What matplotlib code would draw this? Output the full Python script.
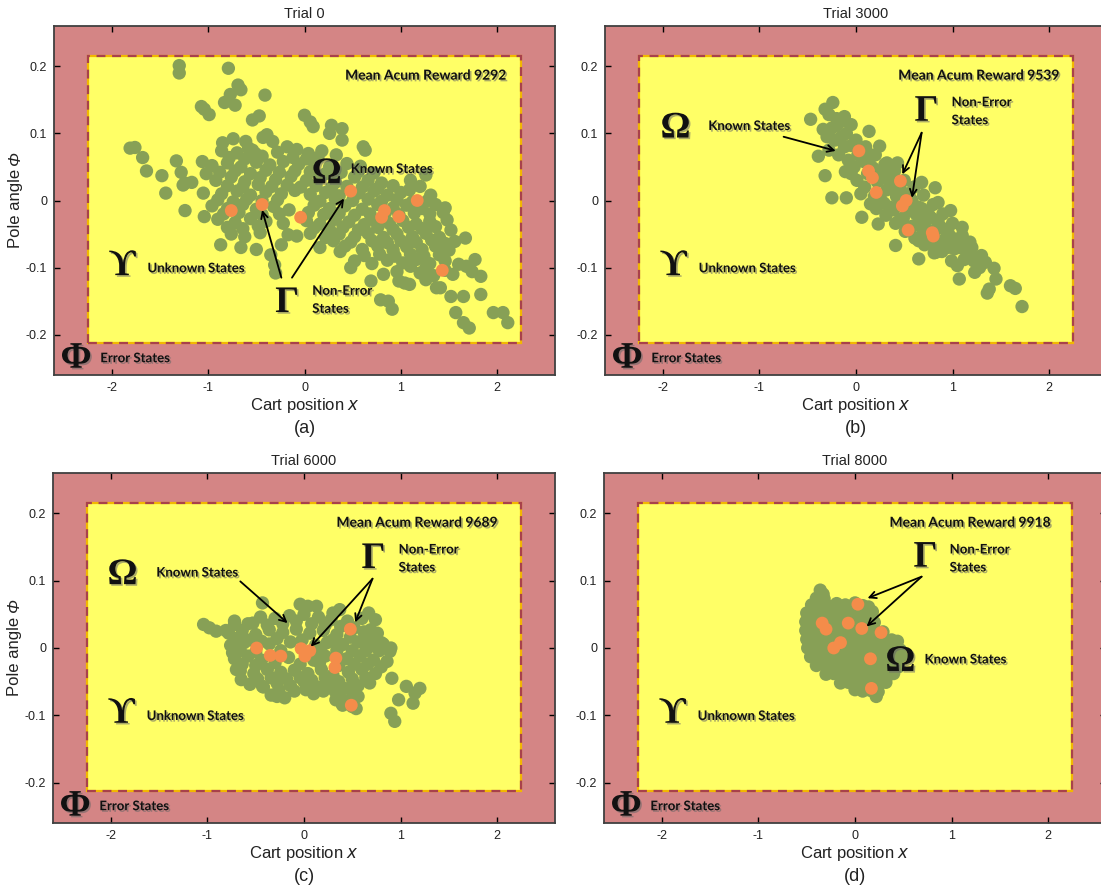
import matplotlib
matplotlib.use("Agg")
import numpy as np
import matplotlib.pyplot as plt
import matplotlib.patheffects as pe
from matplotlib.patches import Rectangle

plt.rcParams['font.family'] = ['Liberation Sans', 'DejaVu Sans']
plt.rcParams['axes.unicode_minus'] = False

# visited states (cart position x, pole angle phi) for each trial
green_a = [
    (-1.30, 0.201), (-1.30, 0.190), (-0.79, 0.197), (-0.69, 0.172), (-0.66, 0.165), (-0.77, 0.158),
    (-0.41, 0.157), (-0.83, 0.146), (-0.72, 0.142), (-1.07, 0.140), (-1.04, 0.136), (-0.99, 0.128),
    (-0.54, 0.120), (-0.47, 0.126), (0.00, 0.127), (0.06, 0.117), (0.09, 0.110), (0.28, 0.112),
    (0.39, 0.107), (0.26, 0.100), (0.39, 0.090), (-0.39, 0.098), (-0.33, 0.088), (-0.43, 0.094),
    (-0.85, 0.086), (-0.74, 0.092), (-0.61, 0.088), (-0.54, 0.075), (-0.51, 0.070), (0.61, 0.080),
    (0.63, 0.075), (-1.81, 0.078), (-1.76, 0.079), (-1.68, 0.064), (-1.64, 0.044), (-1.48, 0.037),
    (-1.44, 0.011), (-1.33, 0.059), (-1.28, 0.042), (-1.24, 0.026), (-1.24, -0.015), (-1.06, 0.058),
    (-1.02, 0.040), (-1.05, 0.011), (-1.04, -0.024), (-0.87, -0.066), (-0.50, -0.073), (-0.35, -0.081),
    (-0.31, -0.096), (-0.30, -0.108), (-0.17, -0.051), (0.48, -0.100), (0.37, -0.076), (0.69, -0.120),
    (0.79, -0.148), (0.87, -0.150), (0.91, -0.162), (0.98, -0.120), (1.04, -0.123), (1.09, -0.125),
    (1.26, -0.118), (1.37, -0.130), (1.41, -0.130), (1.52, -0.143), (1.65, -0.143), (1.57, -0.167),
    (1.65, -0.182), (1.71, -0.190), (1.83, -0.140), (1.96, -0.167), (2.06, -0.167), (2.11, -0.182),
    (1.67, -0.056), (1.83, -0.113), (1.77, -0.088), (1.68, -0.098), (1.48, -0.029), (1.52, -0.044),
    (1.56, -0.061), (1.43, -0.076), (1.26, 0.038), (1.31, 0.008), (1.46, -0.011), (1.20, 0.021),
    (1.09, 0.016), (-1.26, 0.023), (-1.17, 0.027),
    (-0.86, 0.074), (-0.70, 0.071), (-0.58, 0.078), (-0.28, 0.072), (-0.18, 0.080), (-0.08, 0.076),
    (0.04, 0.070), (0.18, 0.074), (0.33, 0.068),
    (-0.96, 0.052), (-0.80, 0.056), (-0.66, 0.050), (-0.50, 0.057), (-0.36, 0.053), (-0.22, 0.058),
    (-0.06, 0.054), (0.10, 0.057), (0.26, 0.050), (0.44, 0.055), (0.58, 0.051),
    (-0.92, 0.030), (-0.76, 0.035), (-0.62, 0.028), (-0.46, 0.034), (-0.30, 0.031), (-0.14, 0.036),
    (0.02, 0.030), (0.16, 0.034), (0.32, 0.027), (0.52, 0.035), (0.66, 0.030), (0.80, 0.026),
    (-0.86, 0.010), (-0.70, 0.014), (-0.56, 0.008), (-0.40, 0.013), (-0.24, 0.010), (-0.10, 0.015),
    (0.06, 0.009), (0.22, 0.012), (0.36, 0.007), (0.56, 0.011), (0.72, 0.014), (0.86, 0.008), (1.00, 0.012),
    (-0.96, -0.008), (-0.80, -0.012), (-0.64, -0.006), (-0.50, -0.013), (-0.32, -0.009), (-0.16, -0.014),
    (0.10, -0.007), (0.26, -0.012), (0.42, -0.008), (0.60, -0.013), (0.76, -0.006), (0.92, -0.011),
    (1.06, -0.007), (1.22, -0.012), (1.36, -0.006),
    (-0.90, -0.028), (-0.72, -0.033), (-0.56, -0.027), (-0.40, -0.031), (-0.22, -0.034), (0.02, -0.030),
    (0.16, -0.035), (0.32, -0.028), (0.46, -0.032), (0.62, -0.036), (0.72, -0.029), (0.88, -0.034),
    (1.02, -0.030), (1.16, -0.035), (1.30, -0.031),
    (-0.76, -0.050), (-0.62, -0.054), (-0.46, -0.048), (-0.08, -0.053), (0.06, -0.049), (0.22, -0.055),
    (0.36, -0.050), (0.52, -0.054), (0.66, -0.049), (0.82, -0.055), (0.96, -0.050), (1.12, -0.054),
    (1.26, -0.049), (1.40, -0.055),
    (-0.66, -0.070), (-0.24, -0.066), (0.16, -0.070), (0.42, -0.068), (0.60, -0.073), (0.76, -0.068),
    (0.92, -0.074), (1.06, -0.069), (1.22, -0.073), (1.36, -0.068), (1.50, -0.074),
    (0.52, -0.090), (0.70, -0.094), (0.86, -0.089), (1.02, -0.093), (1.16, -0.088), (1.30, -0.094),
    (1.46, -0.090), (1.60, -0.095),
    (0.82, -0.110), (0.96, -0.106), (1.20, -0.108), (1.34, -0.112), (1.54, -0.110), (1.74, -0.106),
    (-0.78, 0.064), (-0.62, 0.062), (-0.44, 0.066), (-0.12, 0.064), (0.02, 0.062), (0.14, 0.064),
    (-0.88, 0.042), (-0.72, 0.044), (-0.56, 0.040), (-0.40, 0.045), (-0.26, 0.042), (-0.10, 0.044),
    (0.06, 0.043), (0.22, 0.040), (0.38, 0.042), (0.56, 0.043), (0.72, 0.041),
    (-0.80, 0.022), (-0.64, 0.020), (-0.48, 0.024), (-0.34, 0.021), (-0.18, 0.023), (-0.04, 0.020),
    (0.12, 0.022), (0.28, 0.019), (0.44, 0.021), (0.60, 0.020), (0.76, 0.018), (0.92, 0.022), (1.10, 0.030),
    (-0.90, 0.001), (-0.74, -0.002), (-0.60, 0.002), (-0.44, 0.000), (-0.28, 0.001), (0.16, -0.001),
    (0.32, 0.002), (0.50, 0.000), (0.66, 0.002), (0.80, -0.001), (0.96, 0.001), (1.12, -0.002), (1.28, 0.000),
    (-0.84, -0.020), (-0.68, -0.018), (-0.44, -0.021), (-0.26, -0.020), (0.04, -0.018), (0.20, -0.021),
    (0.36, -0.019), (0.52, -0.022), (0.68, -0.020), (0.84, -0.018), (0.98, -0.021), (1.14, -0.019),
    (1.30, -0.020), (1.44, -0.018),
    (-0.80, -0.040), (-0.64, -0.042), (-0.48, -0.038), (0.10, -0.041), (0.26, -0.043), (0.40, -0.040),
    (0.56, -0.044), (0.76, -0.040), (0.92, -0.043), (1.08, -0.040), (1.22, -0.042), (1.36, -0.039),
    (0.30, -0.060), (0.48, -0.062), (0.70, -0.060), (0.86, -0.063), (1.00, -0.060), (1.16, -0.062),
    (1.32, -0.059), (1.46, -0.064), (0.62, -0.082), (0.78, -0.080), (0.94, -0.083), (1.10, -0.080),
    (1.24, -0.083), (1.40, -0.081), (1.10, -0.098), (1.26, -0.100), (1.46, -0.104),
]
orange_a = [(-0.76, -0.015), (-0.44, -0.006), (-0.04, -0.025), (0.48, 0.014), (0.83, -0.015),
            (0.80, -0.025), (0.98, -0.024), (1.17, 0.000), (1.43, -0.104)]

green_b = [
    (-0.24, 0.146), (-0.32, 0.136), (-0.47, 0.121), (-0.12, 0.125), (-0.05, 0.113), (0.135, 0.103),
    (-0.34, 0.106), (-0.39, 0.066), (-0.32, 0.037), (-0.25, 0.004), (-0.10, 0.004), (0.06, -0.025),
    (0.23, -0.035), (0.41, -0.067), (0.82, 0.019), (0.85, -0.003), (0.98, -0.015), (1.10, -0.040),
    (1.18, -0.062), (1.34, -0.092), (1.43, -0.101), (1.45, -0.117), (1.38, -0.132), (1.36, -0.138),
    (1.60, -0.127), (1.65, -0.131), (1.72, -0.158), (1.21, -0.085), (1.07, -0.117), (1.23, -0.107),
    (1.05, -0.097), (1.12, -0.060), (0.65, -0.087), (0.83, -0.077), (0.32, 0.056), (0.245, 0.081),
    (0.43, 0.056), (0.68, 0.027), (-0.28, 0.128), (-0.20, 0.122), (-0.15, 0.118), (-0.25, 0.108),
    (-0.30, 0.095), (-0.28, 0.075), (-0.20, 0.112), (-0.22, 0.090), (-0.18, 0.068),
    (-0.10, 0.100), (-0.12, 0.080), (-0.08, 0.060), (-0.11, 0.043),
    (0.00, 0.090), (0.02, 0.068), (-0.02, 0.050), (0.01, 0.030),
    (0.10, 0.080), (0.08, 0.058), (0.12, 0.040), (0.09, 0.020),
    (0.20, 0.068), (0.18, 0.048), (0.22, 0.028), (0.19, 0.006), (0.21, -0.012),
    (0.30, 0.054), (0.28, 0.034), (0.32, 0.016), (0.29, -0.004), (0.31, -0.022),
    (0.40, 0.044), (0.38, 0.024), (0.42, 0.006), (0.39, -0.014), (0.41, -0.034),
    (0.50, 0.030), (0.48, 0.012), (0.52, -0.008), (0.49, -0.026), (0.51, -0.046),
    (0.60, 0.020), (0.58, 0.000), (0.62, -0.020), (0.59, -0.038), (0.61, -0.056),
    (0.70, 0.008), (0.68, -0.012), (0.72, -0.030), (0.69, -0.050), (0.71, -0.066),
    (0.80, -0.006), (0.78, -0.026), (0.82, -0.044), (0.79, -0.062), (0.81, -0.078),
    (0.90, -0.020), (0.88, -0.040), (0.92, -0.058), (0.89, -0.076),
    (1.00, -0.034), (0.98, -0.054), (1.02, -0.072), (0.99, -0.090),
    (1.10, -0.052), (1.08, -0.070), (1.12, -0.088),
    (1.20, -0.070), (1.22, -0.090), (1.30, -0.082), (1.28, -0.100),
    (0.05, 0.075), (0.15, 0.052), (0.25, 0.040), (0.35, 0.030), (0.45, 0.000), (0.55, -0.015),
    (0.65, -0.035), (0.75, -0.045), (0.85, -0.060), (0.95, -0.070), (1.05, -0.060), (-0.05, 0.082),
    (0.25, 0.005), (0.35, -0.010), (0.45, -0.030), (0.55, 0.010), (0.65, -0.010), (0.75, -0.020),
    (-0.05, 0.040), (0.05, 0.010), (0.15, -0.005), (0.35, 0.045), (0.45, 0.020), (0.55, -0.040),
    (0.65, -0.060), (0.85, -0.030), (0.95, -0.045), (1.15, -0.075), (-0.15, 0.095), (0.15, 0.068),
]
orange_b = [(0.03, 0.074), (0.13, 0.044), (0.17, 0.034), (0.21, 0.012), (0.46, 0.029),
            (0.52, 0.000), (0.48, -0.008), (0.54, -0.044), (0.79, -0.048), (0.80, -0.053)]

green_c = [
    (-1.04, 0.035), (-0.98, 0.030), (-0.91, 0.025), (-0.81, 0.026), (-0.72, 0.035), (-0.53, 0.037),
    (-0.43, 0.067), (-0.04, 0.065), (0.04, 0.062), (0.13, 0.062), (0.30, 0.052), (0.37, 0.057),
    (0.67, 0.052), (0.74, 0.042), (0.69, 0.027), (0.76, 0.022), (0.80, 0.008), (0.90, 0.000),
    (0.89, -0.005), (0.91, -0.045), (1.06, -0.057), (1.15, -0.067), (1.20, -0.060), (1.13, -0.082),
    (0.98, -0.077), (0.90, -0.097), (0.94, -0.109), (0.50, -0.087), (0.39, -0.082), (0.33, -0.077),
    (0.02, -0.062), (-0.28, -0.072), (-0.43, -0.057), (-0.65, -0.047), (-0.70, -0.032), (-0.74, -0.007),
    (-0.72, 0.040), (-0.45, 0.046), (-0.30, 0.044), (-0.15, 0.048), (0.00, 0.050), (0.15, 0.046),
    (0.28, 0.042), (0.45, 0.040), (0.60, 0.044),
    (-0.78, 0.022), (-0.64, 0.026), (-0.50, 0.020), (-0.36, 0.027), (-0.22, 0.023), (-0.08, 0.028),
    (0.06, 0.022), (0.20, 0.026), (0.34, 0.020), (0.62, 0.024), (0.74, 0.018),
    (-0.76, 0.004), (-0.62, 0.008), (-0.36, 0.006), (-0.14, 0.009), (0.12, 0.004), (0.24, 0.008),
    (0.40, 0.005), (0.56, 0.009), (0.70, 0.003), (0.82, 0.006),
    (-0.72, -0.016), (-0.58, -0.012), (-0.44, -0.018), (-0.16, -0.014), (0.10, -0.018), (0.22, -0.012),
    (0.44, -0.016), (0.58, -0.012), (0.72, -0.018), (0.86, -0.020),
    (-0.66, -0.034), (-0.52, -0.038), (-0.38, -0.032), (-0.24, -0.036), (-0.10, -0.033), (0.04, -0.038),
    (0.18, -0.032), (0.30, -0.040), (0.46, -0.036), (0.60, -0.032), (0.74, -0.038),
    (-0.56, -0.054), (-0.42, -0.058), (-0.28, -0.052), (-0.14, -0.056), (0.00, -0.050), (0.14, -0.058),
    (0.26, -0.054), (0.42, -0.060), (0.56, -0.056), (0.68, -0.052),
    (-0.34, -0.070), (-0.20, -0.074), (0.10, -0.068), (0.36, -0.072), (0.46, -0.078), (0.56, -0.072),
    (0.40, -0.085), (0.54, -0.090),
    (-0.58, 0.036), (-0.38, 0.034), (-0.22, 0.036), (-0.08, 0.040), (0.08, 0.036), (0.22, 0.034),
    (0.38, 0.032), (0.52, 0.030), (-0.70, 0.014), (-0.56, 0.012), (-0.44, 0.010), (-0.28, 0.014),
    (-0.02, 0.012), (0.30, 0.012), (0.48, 0.016), (0.64, 0.012), (0.78, -0.004), (-0.66, -0.004),
    (-0.50, -0.006), (-0.24, -0.004), (0.18, -0.006), (0.34, -0.004), (0.50, -0.004), (0.64, -0.004),
    (-0.64, -0.024), (-0.50, -0.026), (-0.30, -0.022), (-0.04, -0.024), (0.16, -0.022), (0.36, -0.026),
    (0.52, -0.024), (0.66, -0.024), (0.80, -0.028), (-0.48, -0.046), (-0.34, -0.044), (-0.18, -0.046),
    (-0.04, -0.044), (0.08, -0.048), (0.22, -0.044), (0.36, -0.050), (0.50, -0.046), (0.64, -0.044),
    (-0.26, -0.062), (-0.10, -0.064), (0.20, -0.064), (0.32, -0.064), (0.50, -0.064),
]
orange_c = [(-0.49, 0.000), (-0.35, -0.011), (-0.24, -0.012), (-0.03, -0.001), (0.06, -0.004),
            (0.01, -0.012), (0.33, -0.015), (0.32, -0.029), (0.48, 0.028), (0.49, -0.085)]

green_d = [
    (-0.36, 0.086), (-0.33, 0.080), (-0.40, 0.074), (-0.32, 0.073),
    (-0.45, 0.064), (-0.37, 0.066), (-0.29, 0.063), (-0.19, 0.066), (-0.10, 0.064), (0.00, 0.067),
    (0.08, 0.063), (0.14, 0.061),
    (-0.50, 0.052), (-0.42, 0.053), (-0.34, 0.051), (-0.26, 0.054), (-0.18, 0.052), (-0.10, 0.050),
    (-0.02, 0.053), (0.06, 0.052), (0.14, 0.050), (0.18, 0.054),
    (-0.51, 0.039), (-0.43, 0.040), (-0.35, 0.038), (-0.27, 0.041), (-0.19, 0.039), (-0.11, 0.038),
    (-0.03, 0.040), (0.05, 0.039), (0.13, 0.041), (0.20, 0.038),
    (-0.51, 0.026), (-0.43, 0.027), (-0.35, 0.025), (-0.27, 0.026), (-0.19, 0.028), (-0.11, 0.025),
    (-0.03, 0.026), (0.05, 0.027), (0.13, 0.025), (0.21, 0.026), (0.29, 0.024),
    (-0.50, 0.013), (-0.42, 0.014), (-0.34, 0.012), (-0.26, 0.013), (-0.18, 0.015), (-0.10, 0.012),
    (-0.02, 0.013), (0.06, 0.014), (0.14, 0.012), (0.22, 0.013), (0.30, 0.015), (0.38, 0.012), (0.44, 0.010),
    (-0.49, 0.000), (-0.41, 0.001), (-0.33, -0.001), (-0.25, 0.000), (-0.17, 0.002), (-0.09, -0.001),
    (-0.01, 0.000), (0.07, 0.001), (0.15, -0.001), (0.23, 0.000), (0.31, 0.002), (0.39, -0.001), (0.47, -0.003),
    (-0.46, -0.013), (-0.38, -0.012), (-0.30, -0.014), (-0.22, -0.013), (-0.14, -0.011), (-0.06, -0.014),
    (0.02, -0.013), (0.10, -0.012), (0.18, -0.014), (0.26, -0.013), (0.34, -0.011), (0.42, -0.014), (0.48, -0.012),
    (-0.40, -0.026), (-0.32, -0.025), (-0.24, -0.027), (-0.16, -0.026), (-0.08, -0.024), (0.00, -0.027),
    (0.08, -0.026), (0.16, -0.025), (0.24, -0.027), (0.32, -0.026), (0.40, -0.025), (0.45, -0.028),
    (-0.30, -0.039), (-0.22, -0.038), (-0.14, -0.040), (-0.06, -0.039), (0.02, -0.037), (0.10, -0.040),
    (0.18, -0.039), (0.26, -0.038), (0.34, -0.041), (0.40, -0.038),
    (-0.15, -0.052), (-0.07, -0.051), (0.01, -0.053), (0.09, -0.052), (0.17, -0.050), (0.25, -0.053),
    (0.32, -0.051),
    (0.00, -0.062), (0.08, -0.064), (0.16, -0.063), (0.24, -0.065), (0.22, -0.072),
]
orange_d = [(0.03, 0.065), (-0.34, 0.037), (-0.30, 0.028), (-0.07, 0.037), (0.07, 0.029),
            (0.27, 0.023), (-0.15, 0.008), (-0.22, 0.000), (0.16, -0.016), (0.17, -0.060)]

titles = ['Trial 0', 'Trial 3000', 'Trial 6000', 'Trial 8000']
rewards = [9292, 9539, 9689, 9918]
panel_tags = ['(a)', '(b)', '(c)', '(d)']

# where the region labels and arrows sit in each panel
layouts = [
    dict(omega=(0.23, 0.040), known=(0.48, 0.047), gamma=(-0.18, -0.152), nonerr=(0.08, -0.148),
         known_arrows=[], gamma_arrows=[((-0.24, -0.115), (-0.44, -0.014)), ((-0.13, -0.115), (0.41, 0.003))],
         reward_x=2.10),
    dict(omega=(-1.87, 0.108), known=(-1.53, 0.111), gamma=(0.73, 0.133), nonerr=(0.99, 0.133),
         known_arrows=[((-0.75, 0.095), (-0.21, 0.074))],
         gamma_arrows=[((0.68, 0.101), (0.48, 0.039)), ((0.68, 0.101), (0.58, 0.004))],
         reward_x=2.11),
    dict(omega=(-1.88, 0.109), known=(-1.53, 0.112), gamma=(0.72, 0.133), nonerr=(0.98, 0.133),
         known_arrows=[((-0.66, 0.099), (-0.17, 0.037))],
         gamma_arrows=[((0.71, 0.103), (0.07, 0.002)), ((0.71, 0.103), (0.53, 0.038))],
         reward_x=2.01),
    dict(omega=(0.47, -0.020), known=(0.72, -0.017), gamma=(0.73, 0.135), nonerr=(0.98, 0.133),
         known_arrows=[],
         gamma_arrows=[((0.69, 0.106), (0.13, 0.074)), ((0.69, 0.106), (0.12, 0.032))],
         reward_x=2.03),
]

greens = [green_a, green_b, green_c, green_d]
oranges = [orange_a, orange_b, orange_c, orange_d]

W, H = 1101, 886
# axes boxes in pixels: left, top, right, bottom
boxes = [(54, 26, 555, 375), (605, 26, 1107, 375), (53, 473, 555, 823), (604, 473, 1106, 823)]

PINK = '#d48585'
YELLOW = '#ffff66'
GREEN = '#87a056'
ORANGE = '#f48c4a'
GREEK = ['Liberation Serif', 'DejaVu Serif']
LABEL = ['Lato', 'DejaVu Sans']
shadow = [pe.withSimplePatchShadow(offset=(1.2, -1.2), shadow_rgbFace='0.4', alpha=0.55)]

fig = plt.figure(figsize=(W / 100, H / 100), dpi=100)

for i in range(4):
    l, t, r, b = boxes[i]
    ax = fig.add_axes([l / W, 1 - b / H, (r - l) / W, (b - t) / H])
    ax.set_facecolor(PINK)
    ax.set_xlim(-2.6, 2.6)
    ax.set_ylim(-0.26, 0.26)
    ax.set_xticks([-2, -1, 0, 1, 2])
    ax.set_xticklabels(['-2', '-1', '0', '1', '2'])
    ax.set_yticks([-0.2, -0.1, 0, 0.1, 0.2])
    ax.set_yticklabels(['-0.2', '-0.1', '0', '0.1', '0.2'])
    ax.tick_params(direction='in', top=True, right=True, length=4, width=1,
                   labelsize=9, labelcolor='#222222', pad=5)
    for s in ax.spines.values():
        s.set_color('#404040')
        s.set_linewidth(1.3)

    # non-error region with dashed border
    ax.add_patch(Rectangle((-2.25, -0.212), 4.5, 0.427, facecolor=YELLOW,
                           edgecolor='#f2b800', lw=1.6, zorder=0.5))
    ax.add_patch(Rectangle((-2.25, -0.212), 4.5, 0.427, facecolor='none',
                           edgecolor='#a8414b', lw=1.6, ls=(0, (4, 3)), zorder=0.6))

    g = np.array(greens[i])
    o = np.array(oranges[i])
    ax.scatter(g[:, 0], g[:, 1], s=92, color=GREEN, edgecolors='none', zorder=2)
    ax.scatter(o[:, 0], o[:, 1], s=85, color=ORANGE, edgecolors='none', zorder=3)

    ax.set_title(titles[i], fontsize=10.5, color='#222222', pad=6)
    ax.set_xlabel('Cart position $\\mathit{x}$', fontsize=12, color='#222222')
    ax.xaxis.set_label_coords(0.5, -0.06)
    if i in (0, 2):
        # y label written in two pieces so the angle symbol can be italic
        ax.text(-0.076, 0.476, 'Pole angle', transform=ax.transAxes, rotation=90,
                ha='center', va='center', fontsize=12, color='#222222')
        ax.text(-0.076, 0.622, '\u03a6', transform=ax.transAxes, rotation=90,
                ha='center', va='center', fontsize=12, fontstyle='italic', color='#222222')
    ax.text(0.5, -0.152, panel_tags[i], transform=ax.transAxes, ha='center', va='center',
            fontsize=13, color='#222222')

    lay = layouts[i]
    ax.text(lay['reward_x'], 0.186, 'Mean Acum Reward %d' % rewards[i], ha='right', va='center',
            fontsize=10, fontweight='bold', family=LABEL, color='#111111', path_effects=shadow, zorder=4)
    ax.text(*lay['omega'], '\u03a9', ha='center', va='center', fontsize=27, fontweight='bold',
            family=GREEK, color='#111111', path_effects=shadow, zorder=4)
    ax.text(*lay['known'], 'Known States', ha='left', va='center', fontsize=9.5, fontweight='bold',
            family=LABEL, color='#111111', path_effects=shadow, zorder=4)
    ax.text(*lay['gamma'], '\u0393', ha='center', va='center', fontsize=27, fontweight='bold',
            family=GREEK, color='#111111', path_effects=shadow, zorder=4)
    ax.text(*lay['nonerr'], 'Non-Error\nStates', ha='left', va='center', fontsize=9.5, fontweight='bold',
            family=LABEL, color='#111111', linespacing=1.6, path_effects=shadow, zorder=4)
    ax.text(-1.89, -0.097, '\u03d2', ha='center', va='center', fontsize=27, fontweight='bold',
            family=GREEK, color='#111111', path_effects=shadow, zorder=4)
    ax.text(-1.63, -0.101, 'Unknown States', ha='left', va='center', fontsize=9.5, fontweight='bold',
            family=LABEL, color='#111111', path_effects=shadow, zorder=4)
    ax.text(-2.37, -0.235, '\u03a6', ha='center', va='center', fontsize=27, fontweight='bold',
            family=GREEK, color='#111111', path_effects=shadow, zorder=4)
    ax.text(-2.12, -0.235, 'Error States', ha='left', va='center', fontsize=9.5, fontweight='bold',
            family=LABEL, color='#111111', path_effects=shadow, zorder=4)

    for start, end in lay['known_arrows'] + lay['gamma_arrows']:
        ax.annotate('', xy=end, xytext=start,
                    arrowprops=dict(arrowstyle='->', color='black', lw=1.3, mutation_scale=12,
                                    shrinkA=0, shrinkB=0), zorder=5)

fig.savefig('out.png', dpi=100)
